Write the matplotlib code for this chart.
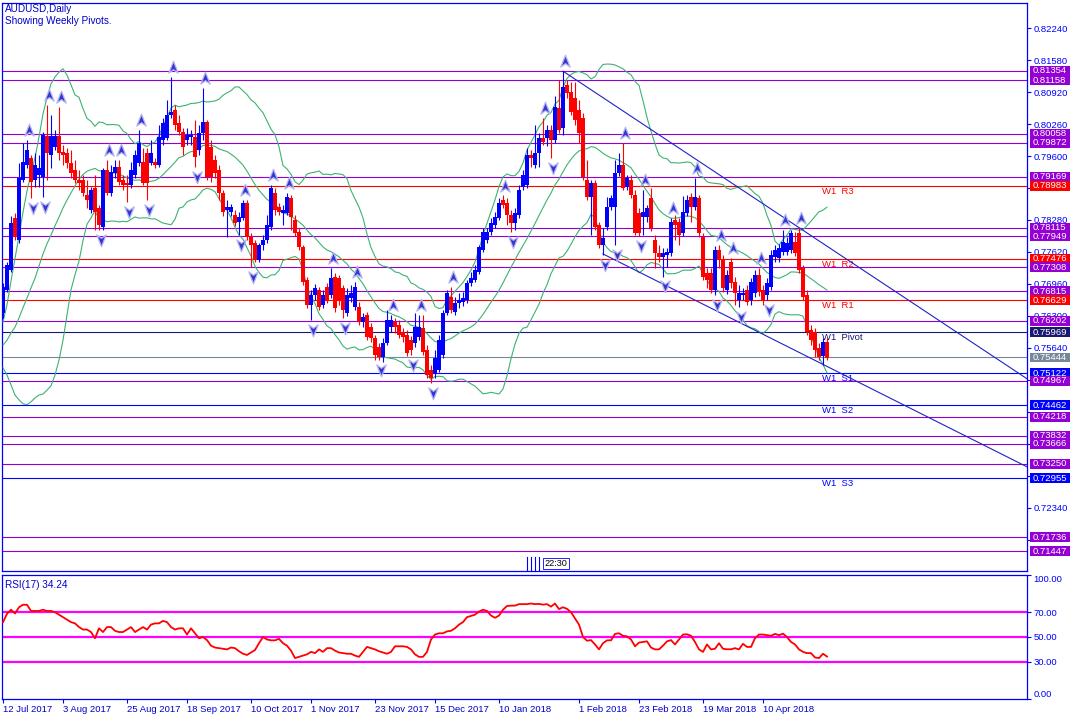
import numpy as np
import pandas as pd
import matplotlib
matplotlib.use("Agg")
import matplotlib.pyplot as plt
from matplotlib import transforms
from matplotlib.path import Path
from matplotlib.lines import Line2D
from matplotlib.patches import Rectangle

plt.rcParams['font.family'] = ['Liberation Sans', 'DejaVu Sans']

# ---------------- data (AUDUSD daily) ----------------
opens = [
.7636,.7684,.7725,.7832,.7787,.7910,.7941,.7956,.7910,.7921,
.7917,.8001,.7962,.7979,.8001,.7968,.7966,.7946,.7931,.7910,
.7910,.7879,.7849,.7894,.7853,.7814,.7931,.7884,.7925,.7937,
.7910,.7904,.7900,.7921,.7946,.7948,.7966,.7946,.7948,.7941,
.7993,.7997,.8045,.8055,.8028,.8010,.7993,.7999,.7999,.7972,
.8007,.8030,.7979,.7952,.7931,.7884,.7849,.7844,.7838,.7824,
.7832,.7863,.7793,.7781,.7746,.7776,.7787,.7814,.7884,.7855,
.7842,.7842,.7873,.7828,.7803,.7772,.7704,.7653,.7673,.7684,
.7653,.7690,.7673,.7711,.7708,.7688,.7636,.7667,.7649,.7649,
.7618,.7632,.7607,.7584,.7566,.7545,.7574,.7607,.7618,.7611,
.7597,.7590,.7580,.7574,.7586,.7605,.7560,.7519,.7512,.7519,
.7549,.7636,.7669,.7638,.7657,.7659,.7663,.7698,.7704,.7721,
.7766,.7787,.7803,.7818,.7832,.7869,.7863,.7838,.7822,.7838,
.7896,.7900,.7962,.7941,.7966,.7997,.7997,.8014,.7993,.8059,
.8018,.8106,.8092,.8080,.8055,.8038,.7910,.7875,.7904,.7818,
.7776,.7814,.7855,.7855,.7925,.7941,.7896,.7910,.7879,.7842,
.7834,.7834,.7873,.7787,.7760,.7752,.7756,.7760,.7828,.7824,
.7801,.7842,.7875,.7855,.7873,.7793,.7719,.7719,.7684,.7766,
.7746,.7684,.7741,.7700,.7663,.7673,.7684,.7663,.7678,.7715,
.7684,.7673,.7690,.7752,.7750,.7762,.7762,.7766,.7783,.7801,
.7729,.7673,.7601,.7597,.7564,.7547,.7576]

highs = [
.7698,.7741,.7836,.7842,.7946,.7987,.7993,.7962,.7966,.7962,
.8010,.8065,.8045,.8014,.8061,.7983,.7977,.7972,.7952,.7931,
.7921,.7910,.7896,.7921,.7859,.7935,.7952,.7941,.7952,.7952,
.7921,.7921,.7948,.7972,.8014,.7977,.7977,.7993,.7956,.8024,
.8038,.8076,.8123,.8065,.8045,.8018,.8018,.8014,.8034,.8024,
.8100,.8034,.7993,.7962,.7941,.7890,.7869,.7861,.7849,.7844,
.7869,.7869,.7801,.7787,.7781,.7797,.7838,.7900,.7894,.7863,
.7859,.7884,.7879,.7838,.7812,.7776,.7711,.7684,.7696,.7690,
.7684,.7698,.7729,.7719,.7715,.7694,.7688,.7694,.7700,.7659,
.7636,.7638,.7615,.7590,.7574,.7584,.7642,.7632,.7626,.7622,
.7605,.7601,.7588,.7636,.7632,.7632,.7570,.7529,.7560,.7590,
.7642,.7684,.7690,.7669,.7678,.7680,.7704,.7721,.7735,.7776,
.7812,.7812,.7832,.7844,.7873,.7879,.7873,.7849,.7853,.7900,
.7931,.7977,.7972,.8024,.8007,.8038,.8024,.8024,.8084,.8117,
.8135,.8117,.8113,.8113,.8076,.8049,.7952,.7910,.7910,.7824,
.7812,.7875,.7879,.7952,.7966,.7987,.7921,.7921,.7890,.7853,
.7890,.7859,.7894,.7797,.7776,.7770,.7770,.7832,.7838,.7832,
.7877,.7879,.7884,.7915,.7879,.7801,.7729,.7729,.7774,.7776,
.7756,.7725,.7750,.7711,.7694,.7688,.7694,.7708,.7725,.7729,
.7694,.7708,.7766,.7776,.7779,.7807,.7793,.7807,.7803,.7812,
.7735,.7684,.7611,.7605,.7574,.7584,.7584]

lows = [
.7626,.7680,.7721,.7787,.7781,.7906,.7935,.7873,.7896,.7896,
.7875,.7910,.7935,.7972,.7952,.7941,.7935,.7915,.7904,.7890,
.7877,.7853,.7842,.7807,.7807,.7807,.7879,.7877,.7915,.7900,
.7890,.7865,.7894,.7915,.7939,.7900,.7869,.7941,.7935,.7937,
.7983,.7993,.8038,.8014,.8003,.7962,.7983,.7983,.7937,.7962,
.7993,.7910,.7906,.7915,.7869,.7836,.7793,.7836,.7816,.7797,
.7828,.7787,.7731,.7741,.7741,.7766,.7781,.7807,.7838,.7838,
.7818,.7838,.7807,.7795,.7766,.7694,.7647,.7622,.7663,.7642,
.7647,.7657,.7667,.7638,.7653,.7626,.7630,.7659,.7642,.7612,
.7607,.7580,.7576,.7539,.7539,.7535,.7570,.7597,.7595,.7584,
.7576,.7547,.7549,.7566,.7580,.7549,.7502,.7492,.7502,.7514,
.7543,.7632,.7636,.7632,.7647,.7651,.7657,.7692,.7700,.7717,
.7762,.7781,.7797,.7812,.7828,.7853,.7818,.7803,.7807,.7832,
.7890,.7894,.7937,.7935,.7937,.7983,.7981,.7956,.7987,.8007,
.8003,.8080,.8045,.8024,.7987,.7910,.7869,.7797,.7807,.7770,
.7756,.7807,.7849,.7776,.7919,.7890,.7890,.7873,.7797,.7795,
.7797,.7824,.7805,.7729,.7741,.7711,.7731,.7754,.7787,.7776,
.7795,.7836,.7824,.7849,.7793,.7704,.7688,.7678,.7673,.7729,
.7680,.7676,.7688,.7653,.7649,.7663,.7653,.7653,.7669,.7671,
.7653,.7663,.7684,.7741,.7741,.7756,.7756,.7760,.7754,.7719,
.7663,.7590,.7570,.7545,.7539,.7528,.7539]

closes = [
.7690,.7735,.7822,.7793,.7915,.7948,.7972,.7906,.7941,.7935,
.8003,.7966,.8001,.8001,.7966,.7962,.7946,.7925,.7910,.7904,
.7884,.7869,.7890,.7844,.7818,.7931,.7884,.7927,.7937,.7906,
.7900,.7900,.7931,.7962,.7987,.7904,.7904,.7966,.7941,.7999,
.8028,.8045,.8051,.8024,.8010,.7979,.8003,.8003,.7958,.8007,
.8030,.7917,.7917,.7925,.7884,.7844,.7855,.7855,.7822,.7834,
.7863,.7793,.7776,.7746,.7776,.7787,.7818,.7894,.7849,.7844,
.7849,.7875,.7834,.7801,.7772,.7700,.7653,.7673,.7688,.7649,
.7673,.7663,.7708,.7647,.7663,.7642,.7673,.7678,.7690,.7618,
.7628,.7586,.7584,.7549,.7545,.7574,.7622,.7622,.7607,.7591,
.7586,.7553,.7560,.7607,.7607,.7556,.7508,.7502,.7543,.7580,
.7636,.7678,.7642,.7657,.7663,.7667,.7698,.7708,.7725,.7772,
.7803,.7803,.7822,.7834,.7863,.7859,.7838,.7822,.7842,.7890,
.7921,.7962,.7956,.7966,.7997,.7989,.8014,.7993,.8061,.8014,
.8102,.8090,.8051,.8034,.8007,.7917,.7875,.7904,.7814,.7776,
.7791,.7855,.7873,.7925,.7941,.7894,.7915,.7879,.7801,.7801,
.7844,.7853,.7812,.7760,.7752,.7760,.7762,.7824,.7818,.7797,
.7844,.7869,.7855,.7875,.7801,.7711,.7704,.7684,.7766,.7746,
.7688,.7715,.7698,.7678,.7678,.7678,.7659,.7700,.7715,.7680,
.7663,.7698,.7756,.7766,.7770,.7783,.7781,.7801,.7760,.7725,
.7669,.7597,.7580,.7560,.7545,.7576,.7544]

# Bollinger(20, 2) values read for the first bars (before 20 closes are available)
bb_upper_head = [.7618,.7653,.7702,.7748,.7795,.7844,.7888,.7923,.7956,.7999,
                 .8047,.8080,.8109,.8123,.8133,.8140,.8127,.8107,.8086]
bb_mid_head = [.7570,.7580,.7595,.7607,.7626,.7647,.7667,.7688,.7708,.7733,
               .7758,.7779,.7797,.7816,.7834,.7853,.7869,.7884,.7898]
bb_lower_head = [.7523,.7508,.7488,.7467,.7457,.7449,.7447,.7453,.7461,.7467,
                 .7469,.7477,.7486,.7508,.7539,.7580,.7632,.7684,.7715]
bb_period = 20
bb_dev = 2.0

rsi = [
62, 68.7, 72, 69, 74, 76, 76, 71, 71, 71,
72, 71, 71, 70, 68, 66, 64, 62, 61, 58,
56, 56, 54, 49, 57, 54, 58, 58, 55, 54,
54, 56, 58, 54, 56, 58, 56, 60, 61, 61,
63, 62, 58, 56, 57, 57, 52, 57, 53, 49,
50, 47.5, 43, 41.5, 41, 40.5, 40, 41.5, 41, 38.5,
36.5, 35.5, 37.5, 39.5, 45, 50, 48, 47.3, 47.3, 48.5,
45, 43, 39, 33, 34, 35, 36, 38, 37, 40,
38, 41, 41, 39, 37.5, 37, 36.5, 36.5, 35, 34,
38, 42, 41, 40, 38.5, 37.5, 36.5, 38, 42.5, 42.5,
42.5, 42, 40, 36, 34, 34, 38, 48, 52, 53,
53, 54.5, 55, 57, 60, 62, 66, 67, 68, 70.5,
72, 71, 67.3, 65.5, 67.3, 72, 75, 75.3, 75.3, 76.5,
76.5, 76.5, 77, 76.5, 76.7, 76.1, 76.5, 74.5, 77, 72.5,
74, 72.7, 70, 65, 60, 50, 47, 47.5, 44, 40,
45, 47.3, 47.3, 52.5, 53, 51, 50.5, 48, 42.5, 45.5,
46, 46.5, 41.5, 40, 40, 43, 46.5, 47.5, 44, 48,
52, 52.2, 51, 46, 40, 38, 44, 40, 40.5, 45,
40.5, 40.1, 40.1, 41, 40, 44.5, 42, 42, 49, 52,
52, 51.5, 51, 52.5, 51.5, 52.7, 50, 46, 44, 40,
38, 37, 37, 33.5, 33, 36.5, 34.24]
rsi_levels = [30, 50, 70]
rsi_ticks = [0, 30, 50, 70, 100]

levels = [0.81354, 0.81158, 0.80058, 0.79872, 0.79169, 0.78983, 0.78115, 0.77949,
          0.77476, 0.77308, 0.76815, 0.76629, 0.76202, 0.75969, 0.75444, 0.75122,
          0.74967, 0.74462, 0.74218, 0.73832, 0.73666, 0.73250, 0.72955, 0.71736, 0.71447]
level_kinds = ['fibo', 'fibo', 'fibo', 'fibo', 'fibo', 'res', 'fibo', 'fibo',
               'res', 'fibo', 'fibo', 'res', 'fibo', 'pivot', 'bid', 'sup',
               'fibo', 'sup', 'fibo', 'fibo', 'fibo', 'fibo', 'sup', 'fibo', 'fibo']
pivot_names = {0.78983: 'W1  R3', 0.77476: 'W1  R2', 0.76629: 'W1  R1', 0.75969: 'W1  Pivot',
               0.75122: 'W1  S1', 0.74462: 'W1  S2', 0.72955: 'W1  S3'}

up_fractals = [6, 11, 14, 26, 29, 34, 42, 50, 60, 67, 71, 82, 88, 97, 104, 112, 125, 135,
               140, 155, 160, 167, 173, 179, 182, 189, 195, 199]
down_fractals = [7, 10, 24, 31, 36, 48, 59, 62, 77, 85, 94, 102, 107, 127, 137, 150, 153,
                 159, 165, 178, 184, 191]

trend_upper = [(140, 0.8135), (206, 0.7774)]
trend_lower = [(150, 0.7758), (206, 0.7526)]

date_labels = ['12 Jul 2017', '3 Aug 2017', '25 Aug 2017', '18 Sep 2017', '10 Oct 2017',
               '1 Nov 2017', '23 Nov 2017', '15 Dec 2017', '10 Jan 2018', '1 Feb 2018',
               '23 Feb 2018', '19 Mar 2018', '10 Apr 2018']
date_bars = [0, 15, 31, 46, 62, 77, 93, 108, 124, 144, 159, 175, 190]

price_ticks = [0.82240, 0.81580, 0.80920, 0.80260, 0.79600, 0.78940, 0.78280, 0.77620,
               0.76960, 0.76300, 0.75640, 0.74980, 0.74320, 0.73660, 0.73000, 0.72340, 0.71680]
# tick labels that the price boxes hide completely on the terminal
hidden_ticks = [0.78940, 0.74980, 0.74320, 0.73660, 0.73000, 0.71680]
price_range = (0.71040, 0.82756)

# ---------------- styling ----------------
W, H = 1080, 720
BLUE = '#0000FF'
TXT = '#0000C8'
kind_color = {'fibo': '#9400D3', 'res': '#FF0000', 'pivot': '#191970',
              'bid': '#778899', 'sup': '#0000FF'}
name_color = {'res': '#FF0000', 'pivot': '#191970', 'sup': '#0000FF'}
FS = 6.8

fig = plt.figure(figsize=(W / 100, H / 100), dpi=100)
fig.patch.set_facecolor('white')


def px_rect(x0, y0, x1, y1):
    return [x0 / W, 1 - y1 / H, (x1 - x0) / W, (y1 - y0) / H]


ax = fig.add_axes(px_rect(2, 3, 1027, 571))
axr = fig.add_axes(px_rect(2, 575, 1027, 699), sharex=ax)

o = np.array(opens); h = np.array(highs); l = np.array(lows); c = np.array(closes)
n = len(c)
idx = np.arange(n)
xmax = 256.0
ax.set_xlim(-0.25, xmax)
ax.set_ylim(*price_range)

# horizontal levels
blend = transforms.blended_transform_factory(ax.transAxes, ax.transData)
box_h = (price_range[1] - price_range[0]) / 568 * 9.8
box_w = 40 / 1025
for lvl, kind in zip(levels, level_kinds):
    col = kind_color[kind]
    ax.axhline(lvl, color=col, lw=0.8, zorder=2)
    ax.add_patch(Rectangle((1.0025, lvl - box_h / 2), box_w, box_h, transform=blend,
                           clip_on=False, fc=col, ec='none', zorder=20))
    ax.text(1.0025 + box_w / 2, lvl, f'{lvl:.5f}', transform=blend, ha='center',
            va='center', color='white', fontsize=FS, zorder=21, clip_on=False)
    if lvl in pivot_names:
        tr = transforms.offset_copy(ax.transData, fig=fig, y=-1, units='dots')
        ax.text(204.75, lvl, pivot_names[lvl], transform=tr, ha='left', va='top',
                color=name_color[kind], fontsize=FS, zorder=3)

# Bollinger bands
cs = pd.Series(c)
mid = cs.rolling(bb_period).mean().to_numpy()
sd = cs.rolling(bb_period).std(ddof=0).to_numpy()
upper = mid + bb_dev * sd
lower = mid - bb_dev * sd
k = len(bb_mid_head)
upper[:k] = bb_upper_head
mid[:k] = bb_mid_head
lower[:k] = bb_lower_head
for band in (upper, mid, lower):
    ax.plot(idx, band, color='#3CB371', lw=0.8, zorder=3)

# trend lines (rays to the right edge)
for (x1, y1), (x2, y2) in (trend_upper, trend_lower):
    slope = (y2 - y1) / (x2 - x1)
    ax.plot([x1, xmax], [y1, y1 + slope * (xmax - x1)], color='#1E22C8', lw=0.8, zorder=3)

# candles
bull = c >= o
cols = np.where(bull, '#0000FF', '#FF0000')
ax.vlines(idx, l, h, colors=cols, lw=0.8, zorder=5)
bottom = np.minimum(o, c)
height = np.maximum(np.abs(c - o), 0.00008)
ax.bar(idx, height, bottom=bottom, width=0.8, color=cols, lw=0, zorder=6)

# fractal arrows
up_path = Path([(0, 1), (0.75, -0.9), (0, -0.35), (-0.75, -0.9), (0, 1)],
               [Path.MOVETO, Path.LINETO, Path.LINETO, Path.LINETO, Path.CLOSEPOLY])
dn_path = Path([(0, -1), (0.75, 0.9), (0, 0.35), (-0.75, 0.9), (0, -1)],
               [Path.MOVETO, Path.LINETO, Path.LINETO, Path.LINETO, Path.CLOSEPOLY])
tr_up = transforms.offset_copy(ax.transData, fig=fig, x=1.5, y=7, units='points')
tr_dn = transforms.offset_copy(ax.transData, fig=fig, x=1.5, y=-7, units='points')
ax.plot(np.array(up_fractals), h[up_fractals], ls='none', marker=up_path, ms=9,
        mfc='#3535D0', mec='#B4B4F4', mew=0.9, transform=tr_up, zorder=7)
ax.plot(np.array(down_fractals), l[down_fractals], ls='none', marker=dn_path, ms=9,
        mfc='#3535D0', mec='#B4B4F4', mew=0.9, transform=tr_dn, zorder=7)

# main axis styling
ax.yaxis.tick_right()
ax.set_yticks(price_ticks)
ax.set_yticklabels(['' if v in hidden_ticks else f'{v:.5f}' for v in price_ticks])
ax.tick_params(axis='y', labelsize=FS, labelcolor=BLUE, colors=BLUE, length=3,
               width=0.8, pad=1.5)
ax.tick_params(axis='x', bottom=False, labelbottom=False)
for sp in ax.spines.values():
    sp.set_color(BLUE)
    sp.set_linewidth(0.9)

fig.text(5 / W, 1 - 4 / H, 'AUDUSD,Daily', ha='left', va='top', fontsize=7.2, color=TXT)
fig.text(5 / W, 1 - 16 / H, 'Showing Weekly Pivots.', ha='left', va='top', fontsize=7.2, color=TXT)

# bar countdown marker
for xp in (527, 531, 535, 539):
    fig.add_artist(Line2D([xp / W, xp / W], [1 - 557 / H, 1 - 570 / H], color=BLUE, lw=0.8))
fig.text(556 / W, 1 - 563.5 / H, '22:30', ha='center', va='center', fontsize=6.6,
         color='black', bbox=dict(boxstyle='square,pad=0.12', fc='white', ec=BLUE, lw=0.6))

# RSI panel
axr.set_ylim(0, 100)
for lv in rsi_levels:
    axr.axhline(lv, color='#FF00FF', lw=1.6, zorder=2)
axr.plot(idx, rsi, color='#FF0000', lw=1.3, zorder=3)
axr.yaxis.tick_right()
axr.set_yticks(rsi_ticks)
axr.set_yticklabels([f'{v:.2f}' for v in rsi_ticks])
axr.tick_params(axis='y', labelsize=FS, labelcolor=BLUE, colors=BLUE, length=3,
                width=0.8, pad=1.5)
axr.set_xticks(date_bars)
axr.set_xticklabels(date_labels)
axr.tick_params(axis='x', labelsize=FS, labelcolor=TXT, colors=BLUE, length=3,
                width=0.8, pad=1.5)
for lab in axr.get_xticklabels():
    lab.set_ha('left')
ylabs = axr.get_yticklabels()
ylabs[0].set_va('bottom')
ylabs[-1].set_va('top')
for sp in axr.spines.values():
    sp.set_color(BLUE)
    sp.set_linewidth(0.9)
fig.text(5 / W, 1 - 580 / H, f'RSI(17) {rsi[-1]:.2f}', ha='left', va='top',
         fontsize=7.2, color=TXT)

fig.savefig('out.png', dpi=100, facecolor='white')
